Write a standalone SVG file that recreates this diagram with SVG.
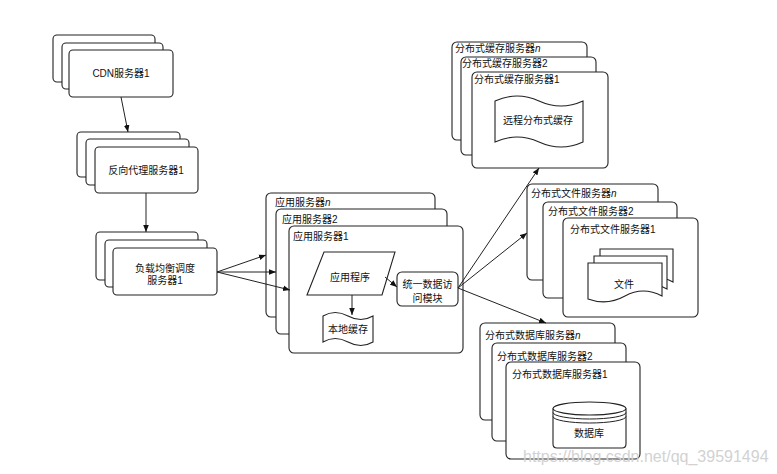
<svg xmlns="http://www.w3.org/2000/svg" width="777" height="474" viewBox="0 0 777 474">
<defs>
<marker id="ah" viewBox="0 0 10 10" refX="10" refY="5" markerWidth="7" markerHeight="7" orient="auto" markerUnits="userSpaceOnUse">
<path d="M0,1 L10,5 L0,9 Z" fill="#111"/>
</marker>
<style>
.box{fill:#fff;stroke:#222;stroke-width:1.1}
.sh{fill:#fff;stroke:#222;stroke-width:1.1}
.t{font-family:"Liberation Sans","Noto Sans CJK SC",sans-serif;font-size:10px;fill:#111}
.c{text-anchor:middle}
.con{fill:none;stroke:#222;stroke-width:1;marker-end:url(#ah)}
.wm{font-family:"Liberation Sans",sans-serif;font-size:16px;fill:#d2d2d2}
</style>
</defs>
<rect width="777" height="474" fill="#fff"/>

<g id="cdn">
<rect class="box" x="53" y="35" width="102" height="47" rx="4"/>
<rect class="box" x="62" y="43" width="101" height="46" rx="4"/>
<rect class="box" x="69" y="50" width="104" height="47" rx="4"/>
<text class="t c" x="121" y="77">CDN服务器1</text>
</g>

<g id="proxy">
<rect class="box" x="77" y="132" width="103" height="45" rx="4"/>
<rect class="box" x="86" y="139" width="103" height="46" rx="4"/>
<rect class="box" x="95" y="147" width="103" height="46" rx="4"/>
<text class="t c" x="146" y="174">反向代理服务器1</text>
</g>

<g id="lb">
<rect class="box" x="96" y="232" width="102" height="48" rx="4"/>
<rect class="box" x="105" y="240" width="102" height="47" rx="4"/>
<rect class="box" x="113" y="248" width="104" height="47" rx="4"/>
<text class="t c" x="165" y="272">负载均衡调度</text>
<text class="t c" x="165" y="284">服务器1</text>
</g>

<g id="app">
<rect class="box" x="266" y="193" width="169" height="124" rx="5"/>
<text class="t" x="275" y="206">应用服务器<tspan font-style="italic">n</tspan></text>
<rect class="box" x="276" y="209" width="171" height="125" rx="5"/>
<text class="t" x="282" y="223">应用服务器2</text>
<rect class="box" x="289" y="226" width="174" height="127" rx="5"/>
<text class="t" x="293" y="240">应用服务器1</text>
</g>

<g id="program">
<path class="sh" d="M324,252 L395,252 L382,295 L307,295 Z"/>
<text class="t c" x="350" y="281">应用程序</text>
</g>

<g id="localcache">
<path class="sh" d="M323,316 Q335,309 348,316 T373,316 L373,342 Q361,349 348,342 T323,342 Z"/>
<text class="t c" x="348" y="333">本地缓存</text>
</g>

<g id="dal">
<rect class="box" x="397" y="272" width="61" height="34" rx="5"/>
<text class="t c" x="427.5" y="287.5">统一数据访</text>
<text class="t c" x="427.5" y="301.5">问模块</text>
</g>

<g id="cache">
<rect class="box" x="452" y="42" width="135" height="98" rx="5"/>
<text class="t" x="455" y="52">分布式缓存服务器<tspan font-style="italic">n</tspan></text>
<rect class="box" x="461" y="57" width="135" height="98" rx="5"/>
<text class="t" x="462" y="67">分布式缓存服务器2</text>
<rect class="box" x="472" y="72" width="136" height="96" rx="5"/>
<text class="t" x="474" y="83">分布式缓存服务器1</text>
<path class="sh" d="M495,101 Q517,91 539,101 T583,101 L583,142 Q561,152 539,142 T495,142 Z"/>
<text class="t c" x="538" y="124">远程分布式缓存</text>
</g>

<g id="file">
<rect class="box" x="527" y="184" width="131" height="96" rx="5"/>
<text class="t" x="531" y="197">分布式文件服务器<tspan font-style="italic">n</tspan></text>
<rect class="box" x="543" y="202" width="134" height="96" rx="5"/>
<text class="t" x="548" y="215">分布式文件服务器2</text>
<rect class="box" x="563" y="218" width="135" height="99" rx="5"/>
<text class="t" x="570" y="233">分布式文件服务器1</text>
<path class="sh" d="M600,249 H673 V282 Q654,272 636,282 T600,285 Z"/>
<path class="sh" d="M594,256 H667 V289 Q648,279 630,289 T594,292 Z"/>
<path class="sh" d="M588,263 H662 V296 Q643,286 625,296 T588,299 Z"/>
<text class="t c" x="624" y="288">文件</text>
</g>

<g id="db">
<rect class="box" x="480" y="323" width="135" height="97" rx="5"/>
<text class="t" x="485" y="339">分布式数据库服务器<tspan font-style="italic">n</tspan></text>
<rect class="box" x="492" y="343" width="134" height="98" rx="5"/>
<text class="t" x="497" y="360">分布式数据库服务器2</text>
<rect class="box" x="506" y="362" width="134" height="97" rx="5"/>
<text class="t" x="512" y="378">分布式数据库服务器1</text>
<path class="sh" d="M553,408.5 V444 Q553,448 557,448 H622 Q626,448 626,444 V408.5"/>
<ellipse class="sh" cx="589.5" cy="408.5" rx="36.5" ry="6.5"/>
<path fill="none" stroke="#222" stroke-width="1" d="M553,412.5 A36.5,6.5 0 0 0 626,412.5 M553,416.5 A36.5,6.5 0 0 0 626,416.5"/>
<text class="t c" x="589" y="437">数据库</text>
</g>

<g id="connectors">
<line class="con" x1="121" y1="97" x2="128" y2="132"/>
<line class="con" x1="146" y1="193" x2="146" y2="232"/>
<line class="con" x1="217" y1="272" x2="266" y2="255"/>
<line class="con" x1="217" y1="272" x2="276" y2="272"/>
<line class="con" x1="217" y1="272" x2="290" y2="290"/>
<line class="con" x1="352" y1="295" x2="352" y2="315"/>
<line class="con" x1="385" y1="277" x2="397" y2="287"/>
<line class="con" x1="458" y1="288" x2="539" y2="168"/>
<line class="con" x1="458" y1="288" x2="527" y2="233"/>
<line class="con" x1="458" y1="288" x2="546" y2="323"/>
</g>

<text class="wm" x="523" y="462">https://blog.csdn.net/qq_39591494</text>
</svg>
